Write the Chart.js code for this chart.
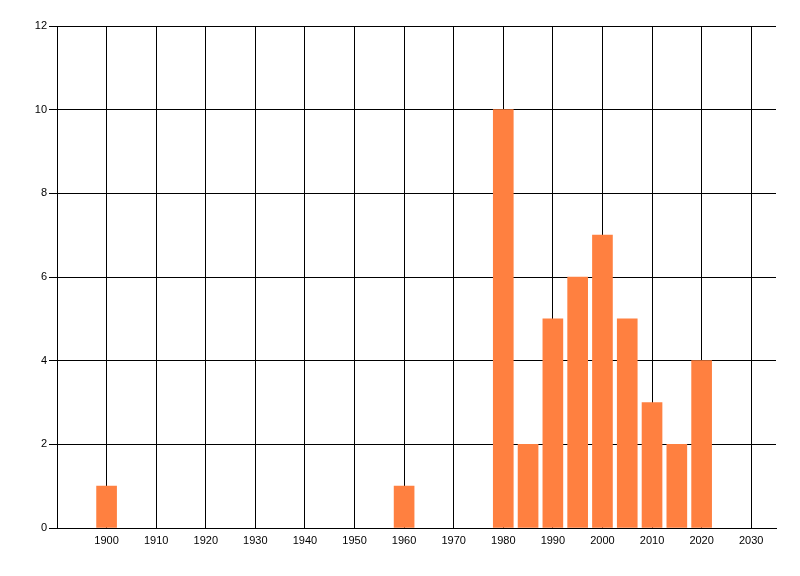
<!DOCTYPE html>
<html lang="en">
<head>
    <meta charset="UTF-8">
    <title>Bar chart by year</title>
    <style>
        html, body { margin: 0; padding: 0; background: #fff; }
        #wrap { width: 800px; height: 576px; }
    </style>
</head>
<body>
    <div id="wrap"><canvas id="yearChart" width="800" height="576"></canvas></div>

    <script src="https://cdn.jsdelivr.net/npm/chart.js"></script>
    <script>
        // values
        const years = [1900, 1960, 1980, 1985, 1990, 1995, 2000, 2005, 2010, 2015, 2020];
        const counts = [1, 1, 10, 2, 5, 6, 7, 5, 3, 2, 4];
        const xTicks = [1890, 1900, 1910, 1920, 1930, 1940, 1950, 1960, 1970, 1980, 1990, 2000, 2010, 2020, 2030];
        const yTicks = [0, 2, 4, 6, 8, 10, 12];

        const points = years.map((y, i) => ({ x: y, y: counts[i] }));

        Chart.defaults.font.family = '"Liberation Sans", Arial, sans-serif';
        Chart.defaults.font.size = 11;
        Chart.defaults.color = '#000';

        const ctx = document.getElementById('yearChart').getContext('2d');
        new Chart(ctx, {
            type: 'bar',
            data: {
                datasets: [{
                    data: points,
                    backgroundColor: 'rgb(255, 128, 64)',
                    borderWidth: 0,
                    barThickness: 20
                }]
            },
            options: {
                responsive: false,
                animation: false,
                layout: { padding: { top: 26, right: 24, left: 0, bottom: 0 } },
                plugins: { legend: { display: false }, tooltip: { enabled: false } },
                scales: {
                    x: {
                        type: 'linear',
                        min: 1890,
                        max: 2035,
                        offset: false,
                        afterBuildTicks: s => { s.ticks = xTicks.map(v => ({ value: v })); },
                        afterFit: s => { s.height = 48; },
                        ticks: {
                            padding: 6,
                            maxRotation: 0,
                            autoSkip: false,
                            callback: v => (v === 1890 ? '' : v)
                        },
                        grid: { color: '#000', lineWidth: 1, drawTicks: false, offset: false },
                        border: { color: '#000', width: 1 }
                    },
                    y: {
                        min: 0,
                        max: 12,
                        afterBuildTicks: s => { s.ticks = yTicks.map(v => ({ value: v })); },
                        afterFit: s => { s.width = 57; },
                        ticks: { padding: 2 },
                        grid: { color: '#000', lineWidth: 1, tickLength: 8 },
                        border: { color: '#000', width: 1 }
                    }
                }
            }
        });
    </script>
</body>
</html>
